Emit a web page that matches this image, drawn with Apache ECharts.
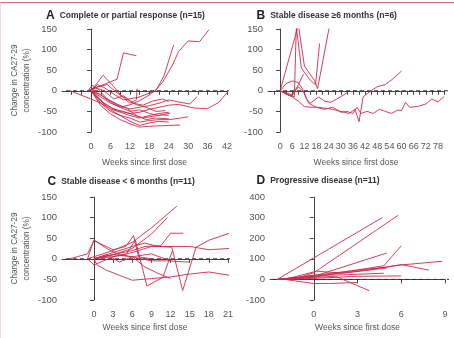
<!DOCTYPE html>
<html>
<head>
<meta charset="utf-8">
<script src="https://cdn.jsdelivr.net/npm/echarts@6/dist/echarts.min.js"></script>
<style>
  html, body { margin: 0; padding: 0; background: #fff; }
  #wrap { position: relative; width: 454px; height: 338px; }
  #chart { width: 454px; height: 338px; }
  #frame { position: absolute; left: 0; top: 2px; width: 453px; height: 336px;
           border-top: 1px solid #c9707f; border-left: 1px solid #f2dade; pointer-events: none; }
</style>
</head>
<body>
<div id="wrap"><div id="chart"></div><div id="frame"></div></div>
<script>
// CA27-29 change (%) per patient, [week, value]
const panelA = [
  [[-6.5,0],[0,-20],[3,-30],[6,-44],[9,-52],[12,-60],[15,-66],[18,-60],[21,-55],[24,-52]],
  [[-1,0],[0,4],[3,12],[6,22],[8,28],[10,92],[14,85]],
  [[0,0],[2,15],[4,8],[7,-8],[10,-22],[14.5,-16],[20,0],[22.5,36],[25.5,111]],
  [[0,0],[3,-15],[6,-30],[9,-40],[12,-34],[15,-24],[18,-10],[20,2],[22,20],[25,60],[27,95],[30,121],[33.5,119],[36.4,148]],
  [[0,0],[3,-25],[6,-40],[9,-50],[12,-55],[15,-52],[18,-45],[21,-40],[24,-35],[27,-33],[32,-42],[36,-43],[39.5,-28],[42.5,0]],
  [[0,0],[3,-10],[6,-25],[9,-38],[12,-44],[15,-40],[18,-36],[21,-30],[24,-22],[27,-27],[30.5,-32],[32.8,-14]],
  [[0,0],[3,-30],[6,-50],[9,-60],[12,-66],[15,-76],[18,-72],[21,-70],[24,-70],[27,-67],[30,-63]],
  [[0,0],[3,-36],[6,-56],[9,-70],[12,-80],[15,-88],[18,-86],[21,-85],[24,-84],[27.5,-83]],
  [[0,0],[3,-25],[6,-46],[9,-60],[12,-74],[15,-84],[18,-78],[21,-74],[24,-76]],
  [[0,5],[3,-10],[6,-28],[9,-40],[12,-50],[15,-46],[18,-55],[21,-60],[24.5,-54]],
  [[0,0],[2,20],[3.7,38],[7,10],[10,-18],[12,-30],[14,-22],[14.2,5]],
  [[0,0],[2,10],[5,15],[8,-5],[11,-20],[14,-34],[17,-40],[20,-50],[23,-48]],
  [[-1,0],[0,10],[1,-5],[4,-30],[7,-45],[10,-50],[13,-58],[16,-66],[19,-62],[22,-58],[24,-60]],
  [[0,15],[2,5],[5,-20],[8,-32],[11,-42],[14,-60],[17,-70],[20,-66],[24,-68]],
  [[0,0],[1,8],[4,0],[7,-20],[10,-12],[13,-30],[16,-35],[19,-25],[22,-20],[24,-26]]
];
const panelB = [
  [[0,0],[9,160],[12,60],[17,25],[18.5,5],[24.3,155]],
  [[0,0],[4,-10],[7,-15],[8,155],[10.5,55],[15,25],[17.5,15],[19.5,115]],
  [[0,0],[3,-8],[6,-12],[9,15],[11.5,40]],
  [[0,0],[3,18],[6,24],[9,20],[11,5],[13,-20],[15,-30],[19,-15],[22,-25],[25,-28],[28,-20],[33,-5]],
  [[0,0],[3,-5],[6,-10],[9,10],[12,-5],[14,-30],[18,-40],[22,-45],[26,-40],[30,-52],[33,-50],[36,-55],[38,-40],[40,-55],[43,-50],[46,-55],[49,-45],[52,-50],[55,-55],[58,-47],[60,-48],[62,-28],[64,-40],[68,-38],[72,-32],[75,-20],[78,-27],[81,-14]],
  [[0,0],[3,-8],[6,-15],[9,-25],[12,-38],[15,-40],[18,-40],[22,-42],[26,-45],[30,-50],[34,-55],[37,-45],[39,-75],[41,-15],[44,-3],[48,10],[52,15],[56,30],[60,48]]
];
const panelC = [
  [[-1,0],[0,5],[3,20],[6,40],[9,75],[13,128]],
  [[0,0],[3,10],[6,25],[9,60],[11.5,100]],
  [[0,0],[3,10],[6,20],[8,30],[10.5,32],[12,62],[14,62]],
  [[0,0],[3,15],[6,30],[8,38],[10,30],[12.2,28],[13.9,-77],[16,28],[18,45],[21.2,62]],
  [[-1,0],[0,-15],[3,5],[6,15],[9,30],[12,30],[15,30],[18,22],[21.2,25]],
  [[0,0],[0.5,-15],[2,-28],[6,-52],[9,-48],[12,-44],[15,-37],[18,-32],[21.2,-40]],
  [[0,0],[3,10],[6,5],[8,-20],[10,-35],[12,-48]],
  [[0,0],[3,5],[5,10],[6.5,45],[8.3,-66],[10.8,-45],[12.3,20]],
  [[-1,0],[0,46],[2,25],[4,10],[6,5],[9,-5],[11.5,-5],[15,-8]],
  [[-3.8,0],[-1,12],[0,44],[3,22],[5,30],[6.2,56],[7,5],[9,0]],
  [[0,0],[2,10],[4,-8],[6,5],[9,12],[12,-5]]
];
const panelD = [
  [[-2.5,0],[4.7,300]],
  [[-2.5,0],[-1,10],[0,32],[5.8,312]],
  [[-2.5,0],[0,15],[2,60],[5,128]],
  [[-2.5,0],[0,10],[2,35],[4.8,66],[6,163]],
  [[-2,0],[0,15],[3,40],[6,70],[8.8,88]],
  [[-2,0],[0,20],[3,45],[5,60],[6,72],[7.9,45]],
  [[-2,0],[0,5],[3,15],[6,17]],
  [[-2,0],[0,10],[1.5,15],[3.8,-55]],
  [[-2,0],[0,-20],[1,-20],[3,-15]],
  [[-2.5,0],[0,20],[2,22],[4.8,30]],
  [[-2,0],[0.2,40],[2,30],[5,55]]
];

const ticksA = [-6,-3,0,3,6,9,12,15,18,21,24,27,30,33,36,39,42];
const labelsA = [0,6,12,18,24,30,36,42];
const ticksB = [-3,0,3,6,9,12,15,18,21,24,27,30,33,36,39,42,45,48,51,54,57,60,63,66,69,72,75,78,81];
const labelsB = [0,6,12,18,24,30,36,42,48,54,60,66,72,78];
const ticksC = [0,3,6,9,12,15,18,21];
const labelsC = [0,3,6,9,12,15,18,21];
const ticksD = [0,3,6,9];
const labelsD = [0,3,6,9];

const panelTitles = [
  ['A', 'Complete or partial response (n=15)'],
  ['B', 'Stable disease \u22656 months (n=6)'],
  ['C', 'Stable disease < 6 months (n=11)'],
  ['D', 'Progressive disease (n=11)']
];

const font = "'Liberation Sans', Arial, sans-serif";
const red = '#cc2a4b';
const gray = '#555';

const layout = [
  { grid: { left: 62, top: 29, width: 165, height: 103 }, dash: { left: 66, top: 29, width: 163, height: 103 },
    x: [-9, 42], y: [-100, 150, 50], data: panelA, ticks: ticksA, labels: labelsA, yName: true, title: [46, 10], xGap: 23.5 },
  { grid: { left: 268, top: 29, width: 176, height: 103 }, dash: { left: 276, top: 29, width: 173, height: 103 },
    x: [-6, 81], y: [-100, 150, 50], data: panelB, ticks: ticksB, labels: labelsB, yName: false, title: [256.5, 10], xGap: 23.5 },
  { grid: { left: 62, top: 197, width: 166, height: 103 }, dash: { left: 66, top: 197, width: 164, height: 103 },
    x: [-5, 21], y: [-100, 150, 50], data: panelC, ticks: ticksC, labels: labelsC, yName: true, title: [47.5, 176], xGap: 20.5 },
  { grid: { left: 270, top: 197, width: 175, height: 103 }, dash: { left: 272, top: 197, width: 177, height: 103 },
    x: [-3, 9], y: [-100, 400, 100], data: panelD, ticks: ticksD, labels: labelsD, yName: false, title: [256.5, 175], xGap: 20.5 }
];

const grid = [], xAxis = [], yAxis = [], series = [], title = [];
const axisLine = { show: true, lineStyle: { color: '#444', width: 1 } };

layout.forEach((p, i) => {
  const g = grid.length;
  grid.push(p.grid, p.dash);
  xAxis.push({
    gridIndex: g, type: 'value', min: p.x[0], max: p.x[1], offset: 3,
    axisLine: axisLine,
    axisTick: { show: true, length: 4, lineStyle: { color: '#444' }, customValues: p.ticks },
    axisLabel: { customValues: p.labels, color: gray, fontFamily: font, fontSize: 9, margin: 7 },
    splitLine: { show: false },
    name: 'Weeks since first dose', nameLocation: 'middle', nameGap: p.xGap,
    nameTextStyle: { color: gray, fontFamily: font, fontSize: 8.5 }
  }, {
    gridIndex: g + 1, type: 'value', min: 0, max: 1, show: false
  });
  yAxis.push({
    gridIndex: g, type: 'value', min: p.y[0], max: p.y[1], interval: p.y[2],
    axisLine: axisLine,
    axisTick: { show: true, length: 4, lineStyle: { color: '#444' } },
    axisLabel: { color: gray, fontFamily: font, fontSize: 9.5, margin: 5 },
    splitLine: { show: false },
    name: p.yName ? 'Change in CA27-29\nconcentration (%)' : '',
    nameLocation: 'middle', nameGap: 29.5, nameRotate: 90,
    nameTextStyle: { color: gray, fontFamily: font, fontSize: 8.2, lineHeight: 12 }
  }, {
    gridIndex: g + 1, type: 'value', min: p.y[0], max: p.y[1], show: false
  });
  p.data.forEach(d => series.push({
    type: 'line', xAxisIndex: g, yAxisIndex: g, data: d, showSymbol: false, silent: true,
    lineStyle: { color: red, width: 1, opacity: 0.9 }
  }));
  series.push({
    type: 'line', xAxisIndex: g + 1, yAxisIndex: g + 1, data: [[0, 0], [1, 0]], showSymbol: false, silent: true,
    lineStyle: { color: '#333', width: 1, type: [4, 3] }, z: 1
  });
  title.push({
    left: p.title[0], top: p.title[1], padding: 0,
    text: '{a|' + panelTitles[i][0] + '}{t|' + panelTitles[i][1] + '}',
    textStyle: {
      rich: {
        a: { fontFamily: font, fontSize: 12, fontWeight: 'bold', color: '#222', lineHeight: 12, padding: [0, 5, 0, 0] },
        t: { fontFamily: font, fontSize: 8.5, fontWeight: 'bold', color: '#333', lineHeight: 12 }
      }
    }
  });
});

const chart = echarts.init(document.getElementById('chart'));
chart.setOption({
  animation: false,
  title: title,
  grid: grid,
  xAxis: xAxis,
  yAxis: yAxis,
  series: series
});
</script>
</body>
</html>
